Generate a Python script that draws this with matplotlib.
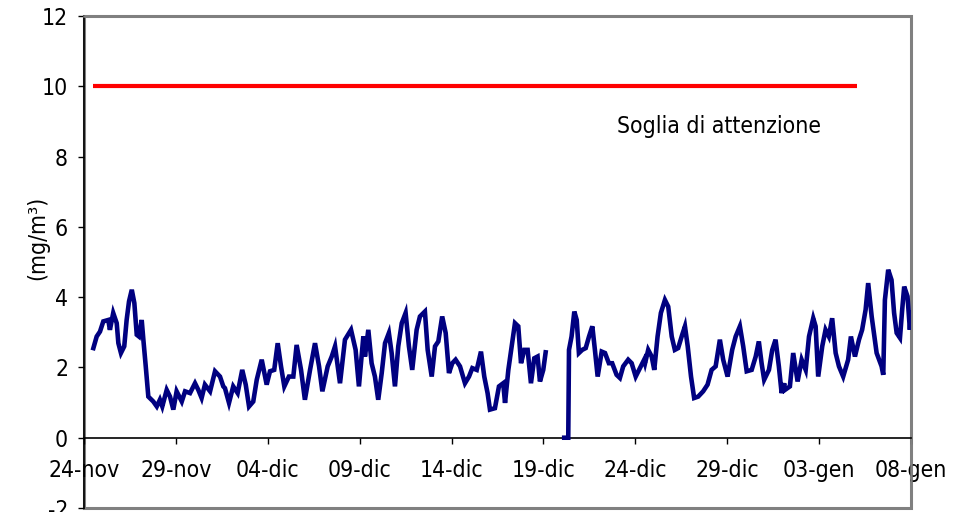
import numpy as np
import matplotlib
matplotlib.use("Agg")
import matplotlib.pyplot as plt
from matplotlib.patches import Rectangle

# ---- data (day offset from 24-nov, CO concentration mg/m3) ----
days = [0.51, 0.69, 0.87, 1.05, 1.32, 1.41, 1.59, 1.78, 1.87, 2.01, 2.19, 2.32, 2.45, 2.60, 2.74, 2.87,
        2.99, 3.14, 3.23, 3.36, 3.50, 3.77, 3.96, 4.13, 4.26, 4.50, 4.68, 4.86, 5.04, 5.32, 5.50, 5.77,
        6.04, 6.22, 6.40, 6.58, 6.86, 7.13, 7.40, 7.58,
        7.67, 7.89, 8.12, 8.36, 8.61, 8.80, 8.98, 9.21, 9.40, 9.67, 9.94, 10.12, 10.35, 10.54, 10.72,
        10.90, 11.15, 11.39, 11.57, 11.81, 12.02, 12.30, 12.57, 12.79, 12.97, 13.26, 13.48, 13.66,
        13.93, 14.20, 14.53, 14.78, 14.96, 15.20,
        15.29, 15.47, 15.65, 15.83, 16.01, 16.20, 16.38, 16.59, 16.74, 16.92, 17.10, 17.29, 17.50,
        17.68, 17.86, 18.10, 18.28, 18.55, 18.70, 18.92, 19.10, 19.28, 19.49, 19.68, 19.86, 20.04,
        20.22, 20.46, 20.73, 20.95, 21.13, 21.37, 21.60, 21.78, 21.96, 22.09, 22.36, 22.58, 22.81,
        22.91, 23.09, 23.27, 23.45, 23.63, 23.78, 23.96, 24.14, 24.32, 24.50, 24.68, 24.81, 24.99,
        25.12, 25.60,
        26.13, 26.35, 26.39, 26.53, 26.68, 26.81, 26.93, 27.11, 27.30, 27.48, 27.66, 27.80, 27.95,
        28.17, 28.35, 28.56, 28.74, 28.98, 29.16, 29.34, 29.61, 29.80, 30.02, 30.25, 30.48,
        30.53, 30.70, 30.89, 31.03, 31.21, 31.39, 31.61, 31.79, 31.98, 32.15, 32.33, 32.55, 32.70,
        32.85, 33.03, 33.20, 33.42, 33.69, 33.93, 34.15, 34.37, 34.60, 34.78, 35.02, 35.27, 35.46,
        35.69, 35.87, 36.06, 36.33, 36.55, 36.72, 36.87, 37.01, 37.27, 37.45, 37.63, 37.81, 37.96,
        38.10,
        38.14, 38.41, 38.59, 38.83, 39.05, 39.27, 39.45, 39.68, 39.81, 39.95, 40.17, 40.35, 40.53,
        40.71, 40.90, 41.08, 41.31, 41.58, 41.73, 41.95, 42.17, 42.34, 42.53, 42.67, 42.86, 43.13,
        43.40, 43.49, 43.58, 43.76, 43.94, 44.08, 44.22, 44.40, 44.52, 44.63, 44.81, 44.94, 45.00]

co = [2.55, 2.88, 3.02, 3.31, 3.35, 3.07, 3.55, 3.26, 2.69, 2.41, 2.60, 3.35, 3.88, 4.21, 3.83, 2.93,
      2.88, 3.35, 2.79, 2.03, 1.17, 1.03, 0.89, 1.08, 0.89, 1.36, 1.17, 0.80, 1.32, 1.03, 1.32, 1.27,
      1.55, 1.36, 1.13, 1.51, 1.32, 1.89, 1.74, 1.46,
      1.41, 0.99, 1.46, 1.27, 1.93, 1.51, 0.89, 1.03, 1.65, 2.22, 1.51, 1.89, 1.93, 2.69, 2.03,
      1.46, 1.74, 1.74, 2.64, 1.93, 1.08, 1.93, 2.69, 2.03, 1.32, 2.03, 2.31, 2.60,
      1.55, 2.79, 3.07, 2.50, 1.46, 2.88,
      2.31, 3.07, 2.12, 1.74, 1.08, 1.84, 2.69, 2.98, 2.41, 1.46, 2.60, 3.26, 3.55,
      2.60, 1.93, 3.07, 3.45, 3.59, 2.50, 1.74, 2.60, 2.74, 3.45, 2.98, 1.84, 2.12,
      2.22, 2.03, 1.55, 1.74, 1.98, 1.93, 2.45, 1.74, 1.27, 0.80, 0.84, 1.46, 1.55,
      0.99, 1.93, 2.60, 3.26, 3.17, 2.12, 2.50, 2.50, 1.55, 2.26, 2.31, 1.60, 1.93,
      2.43, np.nan,
      0.00, 0.00, 2.50, 2.88, 3.59, 3.35, 2.41, 2.50, 2.55, 2.88, 3.17, 2.50, 1.74,
      2.45, 2.41, 2.12, 2.12, 1.79, 1.70, 2.03, 2.22, 2.12, 1.74, 1.98, 2.22,
      2.12, 2.50, 2.31, 1.93, 2.88, 3.55, 3.92, 3.73, 2.88, 2.50, 2.55, 2.93, 3.17,
      2.60, 1.74, 1.13, 1.17, 1.32, 1.51, 1.93, 2.03, 2.79, 2.22, 1.74, 2.50, 2.88,
      3.17, 2.60, 1.89, 1.93, 2.31, 2.74, 2.12, 1.65, 1.93, 2.50, 2.79, 2.03, 1.27,
      1.55,
      1.36, 1.46, 2.41, 1.60, 2.22, 1.93, 2.88, 3.40, 3.17, 1.74, 2.60, 3.07, 2.88,
      3.40, 2.41, 2.03, 1.74, 2.22, 2.88, 2.31, 2.79, 3.07, 3.64, 4.40, 3.45, 2.41,
      2.03, 1.79, 3.92, 4.78, 4.49, 3.55, 2.98, 2.84, 3.64, 4.30, 4.02, 3.07, 3.55]

threshold_days = [0.49, 42.06]
threshold_value = 10
threshold_label = "Soglia di attenzione"

tick_days = [0, 5, 10, 15, 20, 25, 30, 35, 40, 45]
tick_labels = ["24-nov", "29-nov", "04-dic", "09-dic", "14-dic", "19-dic",
               "24-dic", "29-dic", "03-gen", "08-gen"]
y_ticks = [-2, 0, 2, 4, 6, 8, 10, 12]

# ---- style ----
plt.rcParams['font.family'] = ['DejaVu Sans']
plt.rcParams['font.stretch'] = 'condensed'
plt.rcParams['axes.unicode_minus'] = False
FS = 16.5

fig = plt.figure(figsize=(9.65, 5.12), dpi=100)
ax = fig.add_axes([84/965, 1-508/512, 827/965, 492/512])

ax.plot(threshold_days, [threshold_value]*len(threshold_days), color='#FF0000', lw=3.0,
        solid_capstyle='butt', zorder=3)
ax.plot(days, co, color='#000080', lw=3.3, solid_joinstyle='miter', zorder=4)

ax.text(29.0, 8.85, threshold_label, ha='left', va='center', fontsize=FS)

ax.set_xlim(0, 45)
ax.set_ylim(-2, 12)
ax.set_xticks(tick_days)
ax.set_xticklabels(tick_labels)
ax.set_yticks(y_ticks)

# spines
for s in ['top', 'right']:
    ax.spines[s].set_color('#808080')
    ax.spines[s].set_linewidth(1.8)
ax.spines['left'].set_color('black')
ax.spines['left'].set_linewidth(1.2)
ax.spines['bottom'].set_position(('data', 0))
ax.spines['bottom'].set_color('black')
ax.spines['bottom'].set_linewidth(1.2)
ax.add_patch(Rectangle((0, 0), 1, 1, transform=ax.transAxes, fill=False,
                       edgecolor='#808080', lw=2.2, clip_on=False, zorder=0))

ax.tick_params(axis='x', direction='out', length=4.5, width=1, pad=11, labelsize=FS)
ax.tick_params(axis='y', direction='out', length=4.5, width=1, pad=7, labelsize=FS)

ax.set_ylabel("(mg/m³)", fontsize=FS)
ax.yaxis.set_label_coords(-0.042, 0.549)

fig.savefig("out.png", dpi=100)
